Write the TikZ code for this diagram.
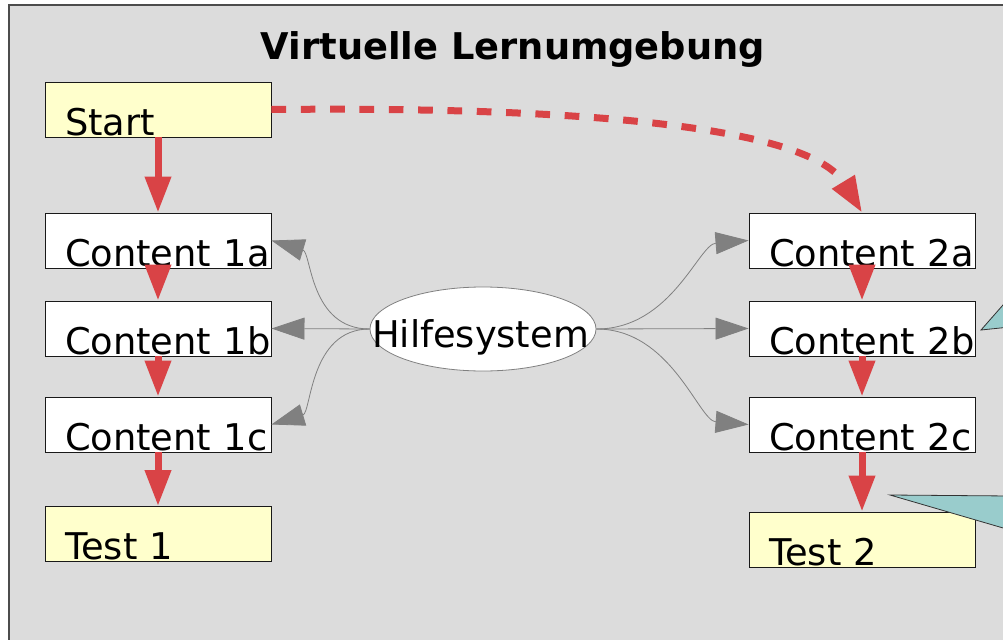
\documentclass[tikz,border=0pt]{standalone}
\usepackage{fontspec}
\setmainfont{DejaVu Sans}
\usetikzlibrary{arrows.meta,shapes.geometric}

\definecolor{bggray}{RGB}{220,220,220}
\definecolor{paleyellow}{RGB}{255,255,204}
\definecolor{flowred}{RGB}{217,67,70}
\definecolor{helpgray}{RGB}{128,128,128}
\definecolor{calloutteal}{RGB}{153,204,204}
\newcommand{\diafont}{\fontsize{27.6pt}{33pt}\selectfont}

\tikzset{
  box/.style={draw=black!90, line width=0.7pt, fill=white, inner sep=0pt,
    text width=169.5pt, align=left, text height=39.75pt, text depth=1.5pt,
    font=\diafont, execute at begin node={\hspace*{15pt}}},
  startbox/.style={box, fill=paleyellow},
  flow/.style={draw=flowred, line width=5.25pt, -{Triangle[length=27pt,width=18.75pt]}},
  jump/.style={flow, dash pattern=on 11pt off 11pt},
  helpline/.style={draw=helpgray, line width=0.6pt, -{Triangle[length=24.75pt,width=16.5pt]}},
  callout/.style={fill=calloutteal, draw=black!80, line width=0.6pt},
}

\begin{document}
\begin{tikzpicture}[x=0.75pt,y=0.75pt,yscale=-1,xscale=1]
\useasboundingbox (0,0) rectangle (1003,639);

% background panel
\fill[bggray] (9,5) rectangle (1020,650);
\draw[black!70, line width=1.1pt] (9,650) -- (9,5) -- (1020,5);

% Title
\node[font=\diafont\bfseries, anchor=base] (title) at (513,59) {Virtuelle Lernumgebung};

% left column
\node[startbox] (start) at (158,109.5) {Start};
\node[box] (cont1a) at (158,240.5) {Content 1a};
\node[box] (cont1b) at (158,328.5) {Content 1b};
\node[box] (cont1c) at (158,424.5) {Content 1c};
\node[startbox] (test1) at (158,534) {Test 1};

% right column
\node[box] (cont2a) at (862,240.5) {Content 2a};
\node[box] (cont2b) at (862,328.5) {Content 2b};
\node[box] (cont2c) at (862,424.5) {Content 2c};
\node[startbox] (test2) at (862,539.5) {Test 2};

% help system
\node[draw=helpgray, line width=0.6pt, fill=white, ellipse, minimum width=169.5pt, minimum height=63pt, inner sep=0pt] (hilfe) at (483,329) {};
\node[font=\diafont, anchor=base] (hilfetext) at (480.5,347) {Hilfesystem};

% flow arrows
\draw[flow] (start) -- (cont1a);
\draw[flow] (cont1a) -- (cont1b);
\draw[flow] (cont1b) -- (cont1c);
\draw[flow] (cont1c) -- (test1);
\draw[flow] (cont2a) -- (cont2b);
\draw[flow] (cont2b) -- (cont2c);
\draw[flow] (cont2c) -- (test2);
\draw[jump] (start.east) .. controls (640,106) and (815,135) .. (cont2a.north);

% help connectors
\draw[helpline] (hilfe.west) .. controls +(-60,0) and +(40,12) .. (cont1a.east);
\draw[helpline] (hilfe.west) -- (cont1b.east);
\draw[helpline] (hilfe.west) .. controls +(-60,0) and +(40,-12) .. (cont1c.east);
\draw[helpline] (hilfe.east) .. controls +(75,0) and +(-50,4) .. (cont2a.west);
\draw[helpline] (hilfe.east) -- (cont2b.west);
\draw[helpline] (hilfe.east) .. controls +(75,0) and +(-50,-4) .. (cont2c.west);

% callout tips
\draw[callout] (1010,297) -- (981,330) -- (1010,327) -- cycle;
\draw[callout] (1010,496) -- (890,495) -- (1010,530) -- cycle;

\end{tikzpicture}
\end{document}
